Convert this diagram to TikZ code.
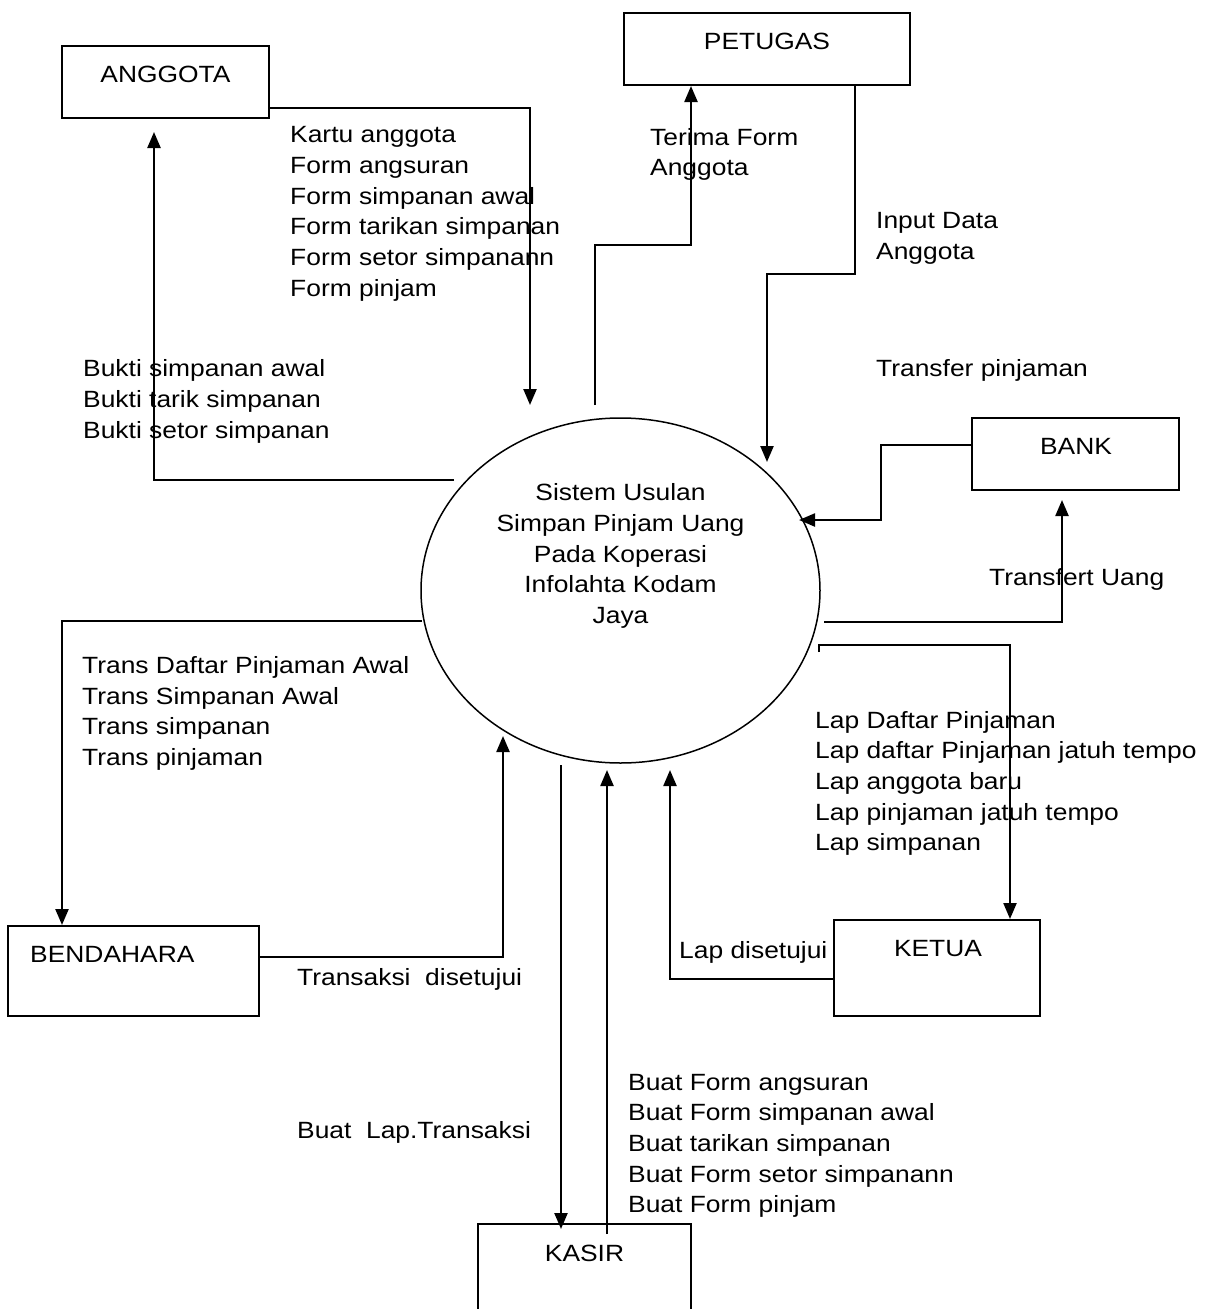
\documentclass[tikz,border=0pt]{standalone}
\usepackage{fontspec}
\setmainfont{Liberation Sans}[FakeStretch=1.123]
\usetikzlibrary{arrows.meta,shapes.geometric}
% stacked label lines, first line's baseline is the box baseline
\newcommand\leftlines[1]{\begin{tabular}[t]{@{}l@{}}#1\end{tabular}}
\newcommand\midlines[1]{\begin{tabular}[t]{@{}c@{}}#1\end{tabular}}
\begin{document}
\begin{tikzpicture}[x=1pt,y=-1pt,
  every node/.style={inner sep=0pt, font=\fontsize{23.5}{30.7}\selectfont},
  entity/.style={draw, rectangle, line width=2pt},
  process/.style={draw, ellipse, line width=1.5pt},
  flow/.style={line width=2.3pt, -{Triangle[length=16pt,width=13pt]}},
  lbl/.style={anchor=base west},
  title/.style={anchor=base}]
\fill[white] (0,0) rectangle (1216,1309);
\useasboundingbox (0,0) rectangle (1216,1309);

% external entities
\node[entity, minimum width=207pt, minimum height=72pt] (anggota) at (165.5,82) {};
\node[title] (anggotaText) at (165.5,82) {ANGGOTA};
\node[entity, minimum width=286pt, minimum height=72pt] (petugas) at (767,49) {};
\node[title] (petugasText) at (767,49.3) {PETUGAS};
\node[entity, minimum width=207pt, minimum height=72pt] (bank) at (1075.5,454) {};
\node[title] (bankText) at (1076,454) {BANK};
\node[entity, minimum width=206pt, minimum height=96pt] (ketua) at (937,968) {};
\node[title] (ketuaText) at (938,956) {KETUA};
\node[entity, minimum width=251pt, minimum height=90pt] (bendahara) at (133.5,971) {};
\node[lbl] (bendaharaText) at (30,962) {BENDAHARA};
\node[entity, minimum width=213pt, minimum height=106pt] (kasir) at (584.5,1277) {};
\node[title] (kasirText) at (584.5,1261) {KASIR};

% the process
\node[process, minimum width=399pt, minimum height=345pt] (proses) at (620.5,590.5) {};
\node[title] (prosesText) at (620.5,500.7)
  {\midlines{Sistem Usulan\\Simpan Pinjam Uang\\Pada Koperasi\\Infolahta Kodam\\Jaya}};

% free ends of the flows near the process
\coordinate (inA) at (530,405);
\coordinate (outA) at (454,480);
\coordinate (toAnggota) at (154,132);
\coordinate (outP) at (595,405);
\coordinate (inP) at (767,462);
\coordinate (inB) at (799,520);
\coordinate (outB) at (824,622);
\coordinate (toBank) at (1062,500);
\coordinate (outK) at (819,652);
\coordinate (inK) at (670,770);
\coordinate (outBd) at (422,621);
\coordinate (inBd) at (503,736);
\coordinate (outKs) at (561,765);
\coordinate (toKasir) at (561,1229);
\coordinate (fromKasir) at (607,1234);
\coordinate (inKs) at (607,770);

% data flows
\draw[flow] (anggota.east |- 0,108) -| (inA);
\draw[flow] (outA) -| (toAnggota);
\draw[flow] (outP) -- (595,245) -| (petugas.south -| 691,0);
\draw[flow] (petugas.south -| 855,0) |- (767,274) -- (inP);
\draw[flow] (bank.west |- 0,445) -| (881,520) -- (inB);
\draw[flow] (outB) -| (toBank);
\draw[flow] (outK) -- (819,645) -| (ketua.north -| 1010,0);
\draw[flow] (ketua.west |- 0,979) -| (inK);
\draw[flow] (outBd) -| (bendahara.north -| 62,0);
\draw[flow] (bendahara.east |- 0,957) -| (inBd);
\draw[flow] (outKs) -- (toKasir);
\draw[flow] (fromKasir) -- (inKs);

% flow labels
\node[lbl] (lblAnggotaIn) at (290,142.7)
  {\leftlines{Kartu anggota\\Form angsuran\\Form simpanan awal\\Form tarikan simpanan\\Form setor simpanann\\Form pinjam}};
\node[lbl] (lblAnggotaOut) at (83,376.7)
  {\leftlines{Bukti simpanan awal\\Bukti tarik simpanan\\Bukti setor simpanan}};
\node[lbl] (lblPetugasIn) at (650,145) {\leftlines{Terima Form\\Anggota}};
\node[lbl] (lblPetugasOut) at (876,228.3) {\leftlines{Input Data\\Anggota}};
\node[lbl] (lblBankOut) at (876,376.7) {Transfer pinjaman};
\node[lbl] (lblBankIn) at (989,585) {Transfert Uang};
\node[lbl] (lblKetuaIn) at (815,728)
  {\leftlines{Lap Daftar Pinjaman\\Lap daftar Pinjaman jatuh tempo\\Lap anggota baru\\Lap pinjaman jatuh tempo\\Lap simpanan}};
\node[lbl] (lblBendaharaIn) at (82,673.3)
  {\leftlines{Trans Daftar Pinjaman Awal\\Trans Simpanan Awal\\Trans simpanan\\Trans pinjaman}};
\node[lbl] (lblBendaharaOut) at (297,985) {Transaksi\ \ disetujui};
\node[lbl] (lblKetuaOut) at (679,958) {Lap disetujui};
\node[lbl] (lblKasirIn) at (297,1138) {Buat\ \ Lap.Transaksi};
\node[lbl] (lblKasirOut) at (628,1090)
  {\leftlines{Buat Form angsuran\\Buat Form simpanan awal\\Buat tarikan simpanan\\Buat Form setor simpanann\\Buat Form pinjam}};
\end{tikzpicture}
\end{document}
